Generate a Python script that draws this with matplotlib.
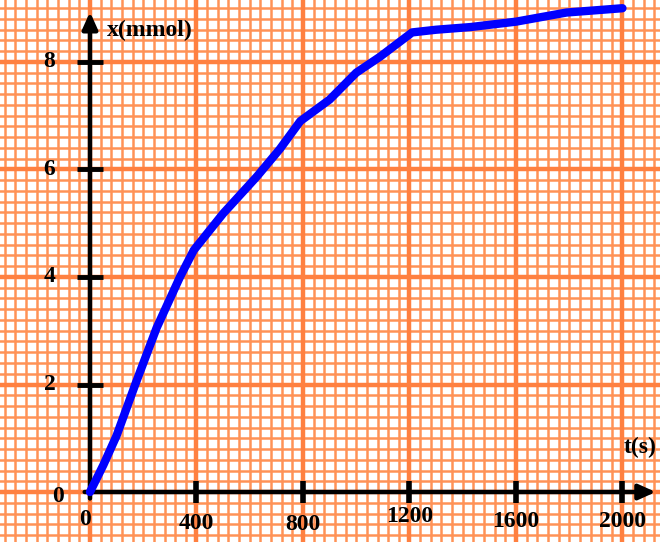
import numpy as np
import matplotlib.pyplot as plt

# data
t = [0, 50, 100, 170, 250, 338, 390, 500, 627, 713, 790, 900, 1000, 1090,
     1210, 1300, 1430, 1600, 1790, 2000]
x = [0, 0.5, 1.05, 2.0, 3.05, 4.0, 4.5, 5.18, 5.87, 6.38, 6.9, 7.3, 7.8, 8.1,
     8.55, 8.6, 8.65, 8.75, 8.92, 9.0]
xticks = [400, 800, 1200, 1600, 2000]
yticks = [2, 4, 6, 8]

fig = plt.figure(figsize=(6.6, 5.42), dpi=100)
ax = fig.add_axes([0, 0, 1, 1])
ax.set_xlim(-338, 2141)
ax.set_ylim(-0.93, 9.153)
ax.axis('off')

# graph paper
grid_minor = '#ff9256'
grid_major = '#ff8040'
for v in np.arange(-320, 2141, 40):
    ax.axvline(v, color=grid_minor, lw=1.8, zorder=0)
for v in np.arange(-0.8, 9.2, 0.2):
    ax.axhline(v, color=grid_minor, lw=1.8, zorder=0)
for v in np.arange(-400, 2141, 400):
    ax.axvline(v, color=grid_major, lw=3.2, zorder=0)
for v in np.arange(-2, 9.2, 2):
    ax.axhline(v, color=grid_major, lw=3.2, zorder=0)

# axes with arrows
arr = dict(arrowstyle='-|>,head_length=1.0,head_width=0.45', color='black',
           lw=3.2, shrinkA=0, shrinkB=0)
ax.annotate('', xy=(2125, 0), xytext=(-20, 0), arrowprops=arr, zorder=3)
ax.annotate('', xy=(0, 8.93), xytext=(0, -0.12), arrowprops=arr, zorder=3)

font = dict(family='Liberation Serif', fontweight='bold', fontsize=17)
label_y = {400: -0.58, 800: -0.6, 1200: -0.45, 1600: -0.55, 2000: -0.55}
for v in xticks:
    ax.plot([v, v], [-0.2, 0.2], color='black', lw=4, zorder=3,
            solid_capstyle='butt')
    ax.text(v, label_y[v], str(v), ha='center', va='center', **font)
for v in yticks:
    ax.plot([-47, 47], [v, v], color='black', lw=3.5, zorder=3,
            solid_capstyle='butt')
    ax.text(-152, v, str(v), ha='center', va='center', **font)
ax.text(-120, -0.08, '0', ha='center', va='center', **font)
ax.text(-19, -0.52, '0', ha='center', va='center', **font)
ax.text(62, 8.58, 'x(mmol)', ha='left', va='center', **font)
ax.text(2005, 0.82, 't(s)', ha='left', va='center', **font)

ax.plot(t, x, color='#0000ff', lw=6, solid_capstyle='round', zorder=4)

fig.savefig('out.png', dpi=100)
